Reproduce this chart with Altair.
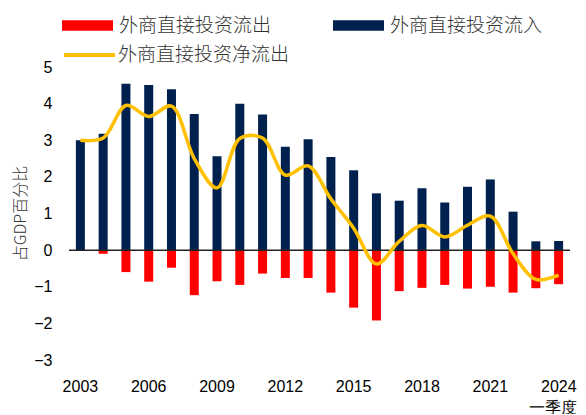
import altair as alt
import pandas as pd

years = list(range(2003, 2025))
inflow = [3.00, 3.18, 4.54, 4.51, 4.39, 3.72, 2.56, 4.00, 3.70, 2.82, 3.03,
          2.54, 2.18, 1.55, 1.35, 1.69, 1.30, 1.73, 1.93, 1.05, 0.24, 0.25]
outflow = [-0.02, -0.10, -0.60, -0.86, -0.48, -1.23, -0.85, -0.95, -0.64, -0.76, -0.76,
           -1.16, -1.57, -1.92, -1.12, -1.03, -0.95, -1.05, -1.00, -1.16, -1.04, -0.93]
net = [3.00, 3.06, 3.95, 3.65, 3.93, 2.50, 1.70, 3.05, 3.06, 2.05, 2.30,
       1.40, 0.60, -0.38, 0.24, 0.67, 0.36, 0.68, 0.93, -0.10, -0.80, -0.68]
tick_years = [2003, 2006, 2009, 2012, 2015, 2018, 2021, 2024]
y_ticks = [-3, -2, -1, 0, 1, 2, 3, 4, 5]

name_out = "外商直接投资流出"
name_in = "外商直接投资流入"
name_net = "外商直接投资净流出"

df = pd.DataFrame({
    "year": years, "inflow": inflow, "outflow": outflow, "net": net,
    "s_in": name_in, "s_out": name_out, "s_net": name_net,
})
zero_df = pd.DataFrame({"zero": [0]})

CJK = "Noto Sans CJK SC"
LAT = "Liberation Sans"

last_test = "datum.value == 2024"
x_enc = alt.X(
    "year:O",
    scale=alt.Scale(paddingInner=0, paddingOuter=0),
    axis=alt.Axis(
        values=tick_years, labelAngle=0, domain=False, ticks=False,
        labelPadding=18, labelFontSize=16, labelFont=LAT, labelColor="black",
        labelExpr="datum.value == 2024 ? ['2024', '一季度'] : datum.label",
        labelAlign={"condition": {"test": last_test, "value": "right"}, "value": "center"},
        labelOffset={"condition": {"test": last_test, "value": 18}, "value": 0},
        labelLineHeight=21, title=None, grid=False,
    ),
)

y_scale = alt.Scale(domain=[-3, 5], nice=False, zero=False)
y_axis = alt.Axis(
    values=y_ticks, domain=False, ticks=False, grid=False,
    labelPadding=17, labelFontSize=16, labelFont=LAT, labelColor="black",
    title="占GDP百分比", titleFont=CJK, titleFontSize=16, titleFontWeight=300,
    titleColor="#333333", titleAngle=-90, titleX=-49, titleY=146,
    titleAlign="center", titleBaseline="middle",
)

bar_path = "M-1,-0.21L1,-0.21L1,0.21L-1,0.21Z"


def leg(lx, ly, stype, sw=0, off=6):
    return alt.Legend(
        title=None, orient="none", legendX=lx, legendY=ly,
        symbolType=stype, symbolSize=2601, symbolStrokeWidth=sw,
        labelFont=CJK, labelFontSize=19, labelFontWeight=300, labelColor="#333333",
        labelOffset=off, padding=0, labelLimit=400,
    )


red = alt.Chart(df).mark_bar(size=9).encode(
    x=x_enc,
    y=alt.Y("outflow:Q", scale=y_scale, axis=y_axis),
    color=alt.Color("s_out:N", scale=alt.Scale(domain=[name_out], range=["#FF0000"]),
                    legend=leg(-7, -67, bar_path)),
)

navy = alt.Chart(df).mark_bar(size=9).encode(
    x=x_enc,
    y=alt.Y("inflow:Q", scale=y_scale, axis=y_axis),
    color=alt.Color("s_in:N", scale=alt.Scale(domain=[name_in], range=["#00214D"]),
                    legend=leg(264, -67, bar_path)),
)

rule = alt.Chart(zero_df).mark_rule(color="#222222", strokeWidth=1.5).encode(
    y=alt.Y("zero:Q", scale=y_scale, axis=y_axis),
)

line = alt.Chart(df).mark_line(strokeWidth=3.5, interpolate="catmull-rom").encode(
    x=x_enc,
    y=alt.Y("net:Q", scale=y_scale, axis=y_axis),
    color=alt.Color("s_net:N", scale=alt.Scale(domain=[name_net], range=["#FFC000"]),
                    legend=leg(-7, -39.5, "stroke", 4, 1)),
)

chart = (
    alt.layer(red, navy, rule, line)
    .resolve_scale(color="independent")
    .properties(
        width=501, height=293,
        autosize=alt.AutoSizeParams(type="none"),
        padding={"left": 61, "top": 59, "right": 8, "bottom": 54},
    )
    .configure_view(strokeWidth=0)
)

chart.save("out.html", embed_options={"renderer": "svg", "actions": False})
